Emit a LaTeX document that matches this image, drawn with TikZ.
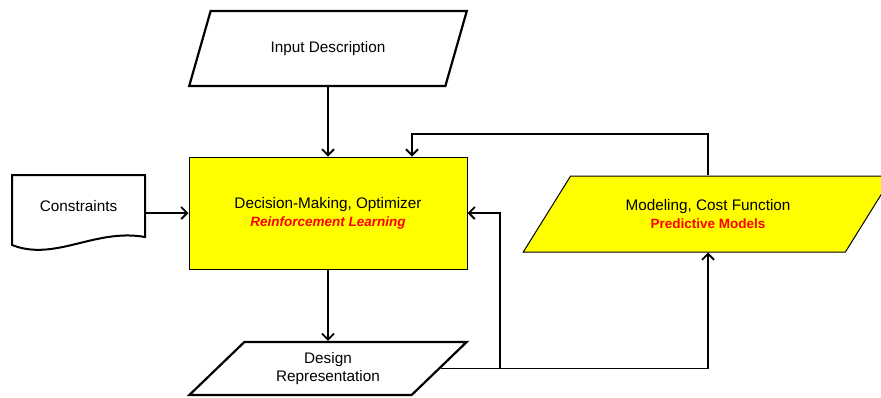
\documentclass[tikz,border=0pt]{standalone}
\usepackage{fontspec}
\setmainfont{Liberation Sans}
\usepackage{tikz}
\usetikzlibrary{arrows.meta,shapes.geometric}
\definecolor{flyellow}{RGB}{255,255,0}
\definecolor{flred}{RGB}{255,0,0}
\newcommand{\mainsize}{\fontsize{15.3}{18}\selectfont}
\newcommand{\subsize}{\fontsize{13.5}{18}\selectfont}
\tikzstyle{arrow} = [line width=1.8pt,-{Straight Barb[length=6pt,width=12pt]}]
\tikzstyle{dataio} = [trapezium, draw, line width=2.2pt, trapezium stretches=true,
  align=center, font=\mainsize, inner sep=0pt]
\tikzstyle{process} = [rectangle, draw, line width=1pt, fill=flyellow,
  align=center, font=\mainsize, minimum width=278pt, minimum height=112pt]

\begin{document}
\begin{tikzpicture}[x=1pt, y=-1pt]
\useasboundingbox (0,0) rectangle (881,397);
\clip (0,0) rectangle (881,397);

% Input and constraints
\node[dataio, trapezium left angle=53.7, trapezium right angle=126.3,
  minimum width=278pt, minimum height=75pt] (input) at (328,48.5) {Input Description};
\draw[line width=2pt] (12,175) -- (145,175) -- (145,237)
  .. controls (95,228) and (55,262) .. (12,245) -- cycle;
\node[font=\mainsize, minimum width=133pt, minimum height=60pt] (constr) at (78.5,206) {Constraints};

% Optimizer
\node[process] (dec) at (328,213) {Decision-Making, Optimizer\\
  {\subsize\color{flred}\bfseries\itshape Reinforcement Learning}};

% Model
\node[dataio, line width=1pt, fill=flyellow, trapezium left angle=45.8, trapezium right angle=134.2,
  minimum width=370pt, minimum height=76pt] (model) at (708,214) {Modeling, Cost Function\\
  {\subsize\color{flred}\bfseries Predictive Models}};

% Output
\node[dataio, trapezium left angle=43.4, trapezium right angle=136.6,
  minimum width=278pt, minimum height=53pt] (design) at (328,368.5) {Design\\ Representation};

% Connectors
\coordinate (split) at (500,368.5);
\coordinate (fb) at (412,134);
\draw[arrow] (input.south) -- (dec.north);
\draw[arrow] (constr.east |- dec) -- (dec.west);
\draw[arrow] (dec.south) -- (design.north);
\draw[arrow] (design.east) -| (model.south);
\draw[arrow] (split) |- (dec.east);
\draw[arrow] (model.north) |- (fb) -- (fb |- dec.north);
\end{tikzpicture}
\end{document}
